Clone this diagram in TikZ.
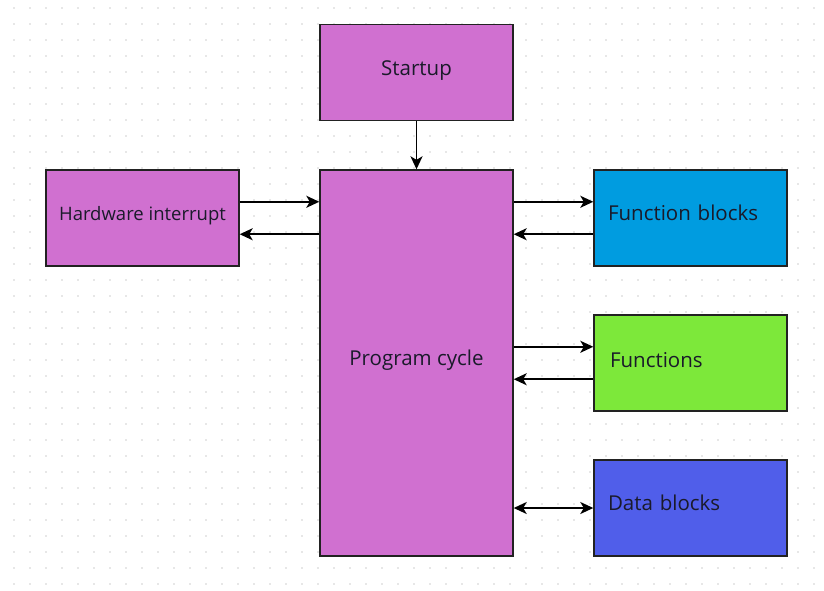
\documentclass[tikz,border=0pt]{standalone}
\usepackage{fontspec}
\setmainfont{Open Sans}
\usetikzlibrary{arrows.meta,calc}
\definecolor{orchidfill}{HTML}{D070D0}
\definecolor{fbfill}{HTML}{009CE0}
\definecolor{fnfill}{HTML}{7DE83A}
\definecolor{dbfill}{HTML}{505EEA}
\definecolor{boxline}{HTML}{222222}
\definecolor{dotgray}{HTML}{CFCFCF}
\definecolor{txt}{HTML}{1A1A2A}
\tikzset{
  blk/.style={draw=boxline, line width=1.4pt, minimum width=193pt, minimum height=96pt, inner sep=0pt, text=txt,
    text height=15pt, text depth=10pt, font=\fontsize{20.5}{24}\selectfont},
  lblk/.style={blk, inner xsep=14pt, text width=165pt, align=left},
  tip/.tip={Stealth[length=13pt,width=12pt,inset=3.5pt]},
  arr/.style={line width=1.8pt, -tip},
  barr/.style={line width=1.8pt, tip-tip}
}
\begin{document}
\begin{tikzpicture}[x=1pt,y=-1pt]
\useasboundingbox (0,0) rectangle (824,590);
\fill[white] (0,0) rectangle (824,590);
% dot grid
\foreach \i in {0,...,50}{
  \foreach \j in {0,...,36}{
    \fill[dotgray] (14+16*\i, 8+16*\j) circle (0.9pt);
  }
}
\node[blk, fill=orchidfill] (st) at (416.5,72.5) {Startup};
\node[blk, fill=orchidfill, minimum height=386pt] (pc) at (416.5,363) {Program cycle};
\node[blk, fill=orchidfill, font=\fontsize{18.5}{22}\selectfont] (hw) at (142.5,218) {Hardware interrupt};
\node[lblk, fill=fbfill] (fb) at (690.5,218) {Function blocks};
\node[lblk, fill=fnfill, text depth=6pt] (fn) at (690.5,363) {\hspace*{2pt}Functions};
\node[lblk, fill=dbfill] (db) at (690.5,508) {Data blocks};
% connectors
\draw[arr] (st.south) -- (pc.north);
\coordinate (h1) at ($(hw.north east)!1/3!(hw.south east)$);
\coordinate (h2) at ($(hw.north east)!2/3!(hw.south east)$);
\draw[arr] (h1) -- (h1 -| pc.west);
\draw[arr] (h2 -| pc.west) -- (h2);
\coordinate (f1) at ($(fb.north west)!1/3!(fb.south west)$);
\coordinate (f2) at ($(fb.north west)!2/3!(fb.south west)$);
\draw[arr] (f1 -| pc.east) -- (f1);
\draw[arr] (f2) -- (f2 -| pc.east);
\coordinate (g1) at ($(fn.north west)!1/3!(fn.south west)$);
\coordinate (g2) at ($(fn.north west)!2/3!(fn.south west)$);
\draw[arr] (g1 -| pc.east) -- (g1);
\draw[arr] (g2) -- (g2 -| pc.east);
\draw[barr] (db.west -| pc.east) -- (db.west);
\end{tikzpicture}
\end{document}
